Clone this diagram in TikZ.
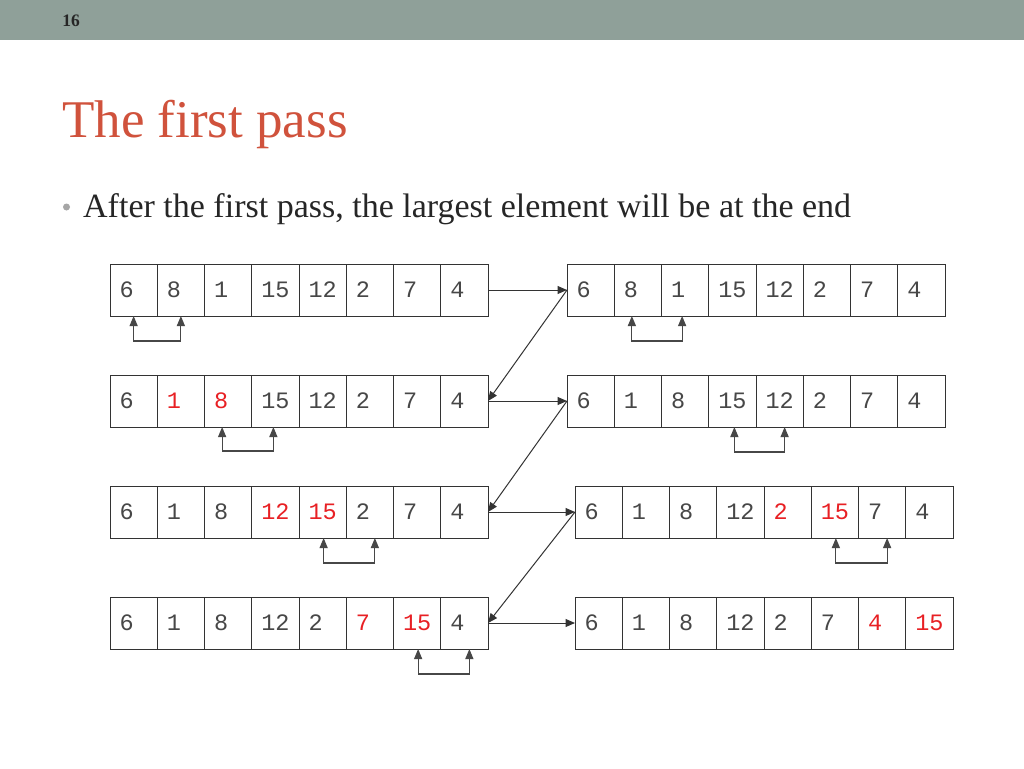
\documentclass[tikz,border=0pt]{standalone}
\usepackage{fontspec}
\setmainfont{Liberation Serif}
\setmonofont{Liberation Mono}
\usetikzlibrary{arrows.meta}
\definecolor{barcol}{RGB}{143,160,153}
\definecolor{titlecol}{RGB}{208,82,60}
\definecolor{swapcol}{RGB}{232,32,36}
\definecolor{linecol}{RGB}{51,51,51}
\newcommand\hl[1]{\textcolor{swapcol}{#1}}

\begin{document}
\begin{tikzpicture}[x=1pt,y=-1pt]
\tikzstyle{cell} = [
 draw=linecol,
 line width=1pt,
 anchor=north west,
 minimum height=52pt,
 text width=28.25pt,
 text height=15pt,
 text depth=0pt,
 inner xsep=9.5pt,
 inner ysep=0pt,
 outer sep=0pt,
 align=left,
 text=linecol!90,
 font=\ttfamily\fontsize{23.5}{23.5}\selectfont
]
\tikzstyle{passarrow} = [
 draw=linecol,
 line width=1pt,
 -{Triangle[length=9.5pt,width=8pt]}
]
\tikzstyle{swaparrow} = [
 draw=linecol!90,
 line width=1.2pt,
 {Triangle[length=10pt,width=8pt]}-{Triangle[length=10pt,width=8pt]}
]
\useasboundingbox[fill=white] (0,0) rectangle (1024,768);
\fill[barcol] (0,0) rectangle (1024,40);

\node[anchor=center,font=\bfseries\fontsize{17.5}{17.5}\selectfont,text=black!85] at (71,21) (num) {16};
\node[anchor=base west,inner sep=0pt,text=titlecol,font=\fontsize{53}{53}\selectfont] at (62,137) (title) {The first pass};
\fill[black!35] (66.5,207) circle (3.5);
\node[anchor=base west,inner sep=0pt,text=black!85,font=\fontsize{34}{34}\selectfont] at (83,217) (bullet) {After the first pass, the largest element will be at the end};

% arrays before and after each comparison
\foreach \v [count=\i] in {6,8,1,15,12,2,7,4}
  \node[cell] (l1-\i) at ({110+(\i-1)*47.25},264) {\v};
\foreach \v [count=\i] in {6,8,1,15,12,2,7,4}
  \node[cell] (r1-\i) at ({567+(\i-1)*47.25},264) {\v};
\foreach \v [count=\i] in {6,\hl{1},\hl{8},15,12,2,7,4}
  \node[cell] (l2-\i) at ({110+(\i-1)*47.25},375) {\v};
\foreach \v [count=\i] in {6,1,8,15,12,2,7,4}
  \node[cell] (r2-\i) at ({567+(\i-1)*47.25},375) {\v};
\foreach \v [count=\i] in {6,1,8,\hl{12},\hl{15},2,7,4}
  \node[cell] (l3-\i) at ({110+(\i-1)*47.25},486) {\v};
\foreach \v [count=\i] in {6,1,8,12,\hl{2},\hl{15},7,4}
  \node[cell] (r3-\i) at ({575+(\i-1)*47.25},486) {\v};
\foreach \v [count=\i] in {6,1,8,12,2,\hl{7},\hl{15},4}
  \node[cell] (l4-\i) at ({110+(\i-1)*47.25},597) {\v};
\foreach \v [count=\i] in {6,1,8,12,2,7,\hl{4},\hl{15}}
  \node[cell] (r4-\i) at ({575+(\i-1)*47.25},597) {\v};

% compared pairs
\path[swaparrow] (l1-1.south) -- ++(0,25) -| (l1-2.south);
\path[swaparrow] ([xshift=-6pt]r1-2.south) -- ++(0,25) -| ([xshift=-3pt]r1-3.south);
\path[swaparrow] ([xshift=-6pt]l2-3.south) -- ++(0,24) -| ([xshift=-2pt]l2-4.south);
\path[swaparrow] ([xshift=2pt]r2-4.south) -- ++(0,25) -| ([xshift=5pt]r2-5.south);
\path[swaparrow] ([xshift=1pt]l3-5.south) -- ++(0,25) -| ([xshift=5pt]l3-6.south);
\path[swaparrow] ([xshift=1pt]r3-6.south) -- ++(0,25) -| ([xshift=5pt]r3-7.south);
\path[swaparrow] ([xshift=1pt]l4-7.south) -- ++(0,25) -| ([xshift=5pt]l4-8.south);

% order of the steps
\path[passarrow] (l1-8.east) -- (r1-1.west);
\path[passarrow] (r1-1.west) -- (l2-8.east);
\path[passarrow] (l2-8.east) -- (r2-1.west);
\path[passarrow] (r2-1.west) -- (l3-8.east);
\path[passarrow] (l3-8.east) -- (r3-1.west);
\path[passarrow] (r3-1.west) -- (l4-8.east);
\path[passarrow] (l4-8.east) -- (r4-1.west);
\end{tikzpicture}
\end{document}
